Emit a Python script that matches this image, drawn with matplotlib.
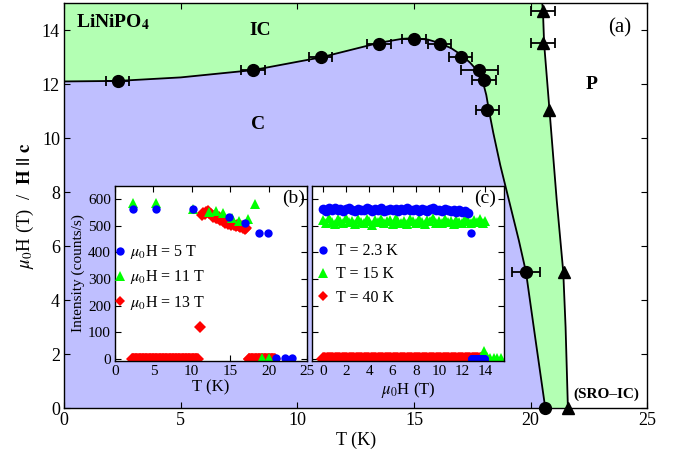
#!/usr/bin/env python3
"""
LiNiPO4 phase diagram (H || c) with neutron intensity insets.
"""

import numpy as np
import matplotlib
matplotlib.use("Agg")
import matplotlib.pyplot as plt

plt.rcParams['font.family'] = ['Liberation Serif', 'DejaVu Serif']
plt.rcParams['mathtext.fontset'] = 'stix'

GREEN_FILL = '#b3ffb3'
BLUE_FILL = '#bfbfff'

# --- main panel: transition points ---
c_ic_T = [2.3, 8.1, 11.0, 13.5, 15.0, 16.1, 17.0, 17.8, 18.0, 18.15, 19.8, 20.63]
c_ic_H = [12.12, 12.52, 12.99, 13.5, 13.67, 13.5, 13.0, 12.52, 12.15, 11.04, 5.05, 0.0]
c_ic_err = [0.5, 0.5, 0.5, 0.5, 0.5, 0.5, 0.5, 0.8, 0.5, 0.5, 0.6, 0.0]

ic_p_T = [20.53, 20.53, 20.81, 21.45, 21.6]
ic_p_H = [14.7, 13.54, 11.04, 5.05, 0.0]
ic_p_err = [0.5, 0.5, 0.0, 0.0, 0.0]

# boundary lines
bound1_T = [0, 2.3, 5.0, 8.1, 11.0, 12.3, 13.5, 14.5, 15.0, 15.6, 16.1, 16.6,
            17.0, 17.4, 17.8, 17.95, 18.1, 18.22, 18.4, 18.7, 19.1, 19.5,
            19.8, 20.2, 20.63]
bound1_H = [12.1, 12.12, 12.25, 12.52, 12.99, 13.27, 13.53, 13.68, 13.7, 13.65,
            13.52, 13.33, 13.1, 12.8, 12.42, 12.1, 11.6, 11.0, 10.2, 9.0, 7.6,
            6.2, 5.05, 2.6, 0]
bound2_T = [20.5, 20.53, 20.58, 20.81, 21.12, 21.4, 21.5, 21.6]
bound2_H = [15.0, 14.7, 13.5, 11.04, 7.7, 5.05, 3.0, 0.0]

# --- inset (b): intensity vs temperature ---
b5_T = [2.3, 5.3, 10.2, 14.8, 16.9, 18.8, 19.9, 21.0, 22.1, 23.1]
b5_I = [562, 562, 562, 533, 512, 473, 473, 5, 5, 5]
b11_T = [2.3, 5.3, 10.2, 12.2, 13.1, 14.1, 15.2, 16.2, 17.3, 18.25, 19.1, 20.1]
b11_I = [585, 585, 565, 552, 555, 547, 529, 519, 525, 582, 5, 5]
b13_T_low = np.linspace(2.2, 10.8, 87)
b13_I_low = np.zeros(87)
b13_T_mid = [11.05]
b13_I_mid = [121]
b13_T_high = np.linspace(11.3, 17.1, 30)
b13_I_high = [540, 548, 545, 552, 555, 548, 543, 535, 538, 530,
              528, 532, 522, 525, 518, 512, 515, 508, 510, 505,
              512, 502, 500, 505, 498, 495, 500, 492, 490, 493]
b13_T_end = np.linspace(17.4, 20.8, 35)
b13_I_end = np.zeros(35)

# --- inset (c): intensity vs field ---
c23_H = np.linspace(0, 12.5, 51)
c23_I = [563, 557, 566, 561, 568, 559, 564, 556, 562, 567,
         560, 555, 565, 561, 558, 566, 562, 557, 563, 560,
         568, 556, 561, 565, 559, 562, 555, 564, 560, 566,
         558, 561, 563, 557, 565, 560, 556, 562, 566, 558,
         561, 555, 563, 559, 557, 561, 553, 558, 552, 556, 550]
c23_H_out = [12.75]
c23_I_out = [475]
c23_H_zero = np.linspace(12.8, 13.9, 23)
c23_I_zero = np.zeros(23)

c15_H = np.linspace(0, 14.0, 57)
c15_I = [522, 512, 528, 515, 508, 525, 518, 510, 530, 514,
         520, 506, 524, 516, 511, 527, 519, 505, 521, 513,
         526, 509, 517, 523, 507, 529, 515, 512, 520, 508,
         524, 518, 510, 526, 514, 506, 521, 517, 528, 511,
         519, 509, 525, 513, 520, 507, 523, 516, 512, 527,
         518, 510, 522, 515, 524, 512, 519]
c15_H_zero = [13.6, 13.75, 13.9, 14.1, 14.4, 14.7, 15.0, 15.3]
c15_I_zero = [5, 5, 30, 8, 5, 5, 5, 5]

c40_H = np.linspace(0, 14.0, 141)
c40_I = np.zeros(141)


def style_axes(ax, size):
    ax.tick_params(direction='in', top=True, right=True, labelsize=size,
                   length=4, width=0.8, pad=3)
    for sp in ax.spines.values():
        sp.set_linewidth(1.0)


fig = plt.figure(figsize=(6.82, 4.5), dpi=100)
ax = fig.add_axes([0.094, 0.093, 0.855, 0.900])

# phase regions
ax.fill([0] + bound2_T + [0], [15.0] + bound2_H + [0.0],
        color=GREEN_FILL, lw=0, zorder=0)
ax.fill(bound1_T + [0], bound1_H + [0.0], color=BLUE_FILL, lw=0, zorder=1)
ax.plot(bound1_T, bound1_H, color='black', lw=1.3, zorder=2)
ax.plot(bound2_T, bound2_H, color='black', lw=1.3, zorder=2)

ax.errorbar(c_ic_T, c_ic_H, xerr=c_ic_err, fmt='o', color='black',
            ms=8.5, elinewidth=1.3, capsize=3.5, capthick=1.3, zorder=5,
            clip_on=False)
ax.errorbar(ic_p_T, ic_p_H, xerr=ic_p_err, fmt='^', color='black',
            ms=8, elinewidth=1.3, capsize=3.5, capthick=1.3, zorder=5,
            clip_on=False)

ax.set_xlim(0, 25)
ax.set_ylim(0, 15)
ax.set_xticks(range(0, 26, 5))
ax.set_yticks(range(0, 15, 2))
style_axes(ax, 13)
ax.set_xlabel('T (K)', fontsize=13, labelpad=2)
ax.set_ylabel(r'$\mu_0$H (T)  /  $\mathbf{H}$ $\mathbf{||}$ $\mathbf{c}$',
              fontsize=13.5, labelpad=4)

ax.text(0.5, 14.3, r'LiNiPO$_{\mathbf{4}}$', fontsize=14, fontweight='bold',
        va='center')
ax.text(8.4, 14.0, 'IC', fontsize=14, fontweight='bold', ha='center', va='center')
ax.text(8.3, 10.5, 'C', fontsize=14, fontweight='bold', ha='center', va='center')
ax.text(22.6, 12.0, 'P', fontsize=14, fontweight='bold', ha='center', va='center')
ax.text(23.8, 14.1, '(a)', fontsize=15, ha='center', va='center')
ax.text(21.85, 0.5, '(SRO\u2013IC)', fontsize=11, fontweight='bold',
        ha='left', va='center')

# inset (b)
axb = fig.add_axes([0.1686, 0.1978, 0.2815, 0.3889])
axb.plot(b13_T_low, b13_I_low, 'D', color='red', ms=6, mew=0)
axb.plot(b13_T_mid, b13_I_mid, 'D', color='red', ms=6, mew=0)
axb.plot(b13_T_high, b13_I_high, 'D', color='red', ms=6, mew=0)
axb.plot(b13_T_end, b13_I_end, 'D', color='red', ms=6, mew=0)
axb.plot(b11_T, b11_I, '^', color='#00ff00', ms=6.5, mew=0)
axb.plot(b5_T, b5_I, 'o', color='blue', ms=6, mew=0)
hb1, = axb.plot([], [], 'o', color='blue', ms=6, mew=0)
hb2, = axb.plot([], [], '^', color='#00ff00', ms=6.5, mew=0)
hb3, = axb.plot([], [], 'D', color='red', ms=5, mew=0)
axb.legend([hb1, hb2, hb3],
           [r'$\mu_0$H = 5 T', r'$\mu_0$H = 11 T', r'$\mu_0$H = 13 T'],
           loc='upper left', bbox_to_anchor=(-0.03, 0.71), frameon=False,
           fontsize=11.5, handlelength=0.6, handletextpad=0.3,
           labelspacing=0.45, borderaxespad=0)
axb.set_xlim(0, 25)
axb.set_ylim(-8, 650)
axb.set_xticks(range(0, 26, 5))
axb.set_yticks(range(0, 601, 100))
style_axes(axb, 11)
axb.set_xlabel('T (K)', fontsize=12, labelpad=1)
axb.set_ylabel('Intensity (counts/s)', fontsize=11, labelpad=2)
axb.text(0.93, 0.93, '(b)', transform=axb.transAxes, fontsize=14,
         ha='center', va='center')

# inset (c)
axc = fig.add_axes([0.4575, 0.1978, 0.2815, 0.3889])
axc.plot(c40_H, c40_I, 'D', color='red', ms=7, mew=0)
axc.plot(c15_H, c15_I, '^', color='#00ff00', ms=7.5, mew=0)
axc.plot(c15_H_zero, c15_I_zero, '^', color='#00ff00', ms=7, mew=0)
axc.plot(c23_H, c23_I, 'o', color='blue', ms=7, mew=0)
axc.plot(c23_H_out, c23_I_out, 'o', color='blue', ms=6, mew=0)
axc.plot(c23_H_zero, c23_I_zero, 'o', color='blue', ms=6.5, mew=0)
hc1, = axc.plot([], [], 'o', color='blue', ms=6, mew=0)
hc2, = axc.plot([], [], '^', color='#00ff00', ms=6.5, mew=0)
hc3, = axc.plot([], [], 'D', color='red', ms=5, mew=0)
axc.legend([hc1, hc2, hc3], ['T = 2.3 K', 'T = 15 K', 'T = 40 K'],
           loc='upper left', bbox_to_anchor=(0.0, 0.71), frameon=False,
           fontsize=11.5, handlelength=0.6, handletextpad=0.5,
           labelspacing=0.45, borderaxespad=0)
axc.set_xlim(-0.95, 15.6)
axc.set_ylim(-8, 650)
axc.set_xticks(range(0, 15, 2))
axc.set_yticks(range(0, 601, 100))
axc.set_yticklabels([])
style_axes(axc, 11)
axc.set_xlabel(r'$\mu_0$H (T)', fontsize=12, labelpad=1)
axc.text(0.9, 0.93, '(c)', transform=axc.transAxes, fontsize=14,
         ha='center', va='center')

fig.savefig('out.png', dpi=100)
